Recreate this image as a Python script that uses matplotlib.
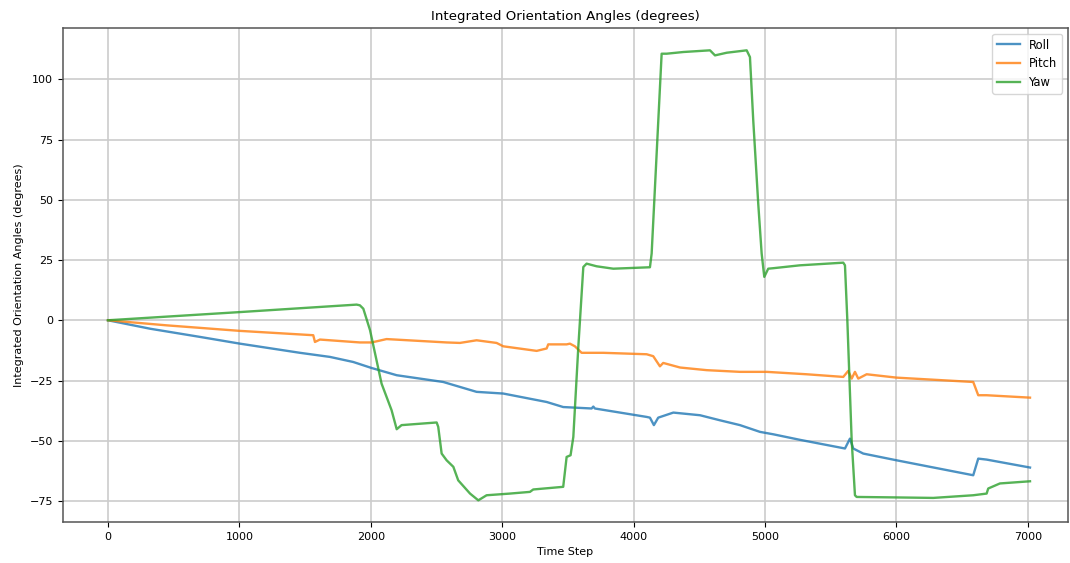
import matplotlib

matplotlib.use("Agg")

import matplotlib.pyplot as plt

# values (time step, degrees)
roll_t = [0, 320, 700, 1004, 1461, 1689, 1866, 2006, 2197, 2551, 2805, 3008, 3338,
          3464, 3680, 3693, 3705, 4099, 4124, 4154, 4187, 4302, 4505, 4657, 4809,
          4961, 5062, 5265, 5608, 5646, 5671, 5747, 6001, 6584, 6622, 6686, 7016]
roll_v = [0, -3.5, -6.9, -9.7, -13.5, -15.2, -17.3, -19.8, -22.8, -25.6, -29.7, -30.4, -33.9,
          -36.0, -36.6, -35.8, -36.6, -40.1, -40.4, -43.5, -40.4, -38.3, -39.4, -41.5, -43.5,
          -46.3, -47.3, -49.6, -53.2, -49.1, -53.2, -55.3, -58.1, -64.3, -57.4, -57.8, -61.1]

pitch_t = [0, 446, 1004, 1562, 1575, 1613, 1917, 2006, 2120, 2577, 2678, 2805, 2957,
           3008, 3262, 3338, 3350, 3490, 3515, 3553, 3604, 3769, 4099, 4149, 4200,
           4225, 4353, 4556, 4809, 5012, 5316, 5595, 5633, 5659, 5684, 5709, 5773,
           6001, 6584, 6622, 6686, 7016]
pitch_v = [0, -2.1, -4.4, -6.2, -9.0, -8.0, -9.2, -9.2, -7.8, -9.2, -9.4, -8.3, -9.4,
           -10.8, -12.7, -11.7, -10.0, -10.0, -9.7, -10.8, -13.5, -13.5, -14.1, -14.9, -19.1,
           -17.7, -19.6, -20.7, -21.4, -21.4, -22.4, -23.5, -21.0, -24.2, -21.4, -24.2, -22.4,
           -23.8, -25.6, -31.1, -31.1, -32.1]

yaw_t = [0, 1004, 1892, 1917, 1943, 1994, 2082, 2158, 2197, 2234, 2501, 2513, 2539,
         2577, 2628, 2665, 2755, 2818, 2881, 3059, 3211, 3236, 3464, 3490, 3520,
         3541, 3579, 3617, 3642, 3718, 3845, 4124, 4137, 4213, 4251, 4378, 4581,
         4619, 4708, 4860, 4885, 4910, 4948, 4974, 4994, 5024, 5062, 5265, 5595,
         5608, 5626, 5659, 5684, 5697, 6001, 6280, 6584, 6686, 6698, 6787, 7016]
yaw_v = [0, 3.4, 6.5, 6.2, 4.8, -4.1, -26.3, -37.3, -45.2, -43.5, -42.4, -44.2, -55.3,
         -58.1, -60.8, -66.4, -71.9, -74.7, -72.6, -71.9, -71.2, -70.2, -69.1, -56.7, -56.0,
         -48.4, -11.0, 22.1, 23.5, 22.4, 21.4, 22.0, 27.7, 110.6, 110.6, 111.3, 112.0,
         109.9, 111.0, 112.0, 109.2, 83.0, 48.4, 27.7, 18.0, 21.4, 21.6, 22.8, 23.9,
         22.8, 0.0, -49.8, -72.6, -73.3, -73.5, -73.7, -72.6, -71.9, -69.8, -67.7, -66.8]


def main() -> None:
    plt.rcParams["font.size"] = 8
    fig = plt.figure(figsize=(10.7, 5.63), dpi=100)
    ax = fig.add_axes([0.0589, 0.0728, 0.9391, 0.8772])

    ax.plot(roll_t, roll_v, label="Roll", lw=1.7, color="#1f77b4", alpha=0.8)
    ax.plot(pitch_t, pitch_v, label="Pitch", lw=1.7, color="#ff7f0e", alpha=0.8)
    ax.plot(yaw_t, yaw_v, label="Yaw", lw=1.7, color="#2ca02c", alpha=0.8)

    ax.set_xlim(-342, 7304)
    ax.set_ylim(-83.7, 121.2)
    ax.set_xticks(range(0, 7001, 1000))
    ax.set_yticks(range(-75, 101, 25))
    ax.set_xlabel("Time Step", fontsize=8)
    ax.set_ylabel("Integrated Orientation Angles (degrees)", fontsize=8)
    ax.set_title("Integrated Orientation Angles (degrees)", fontsize=9.6)
    ax.grid(True, color="#cccccc", lw=1.2)
    for spine in ax.spines.values():
        spine.set_color("#555555")
        spine.set_linewidth(1.1)
    ax.legend(loc="upper right", fontsize=8.3)

    fig.savefig("out.png", dpi=100)
    plt.close(fig)


if __name__ == "__main__":
    main()
